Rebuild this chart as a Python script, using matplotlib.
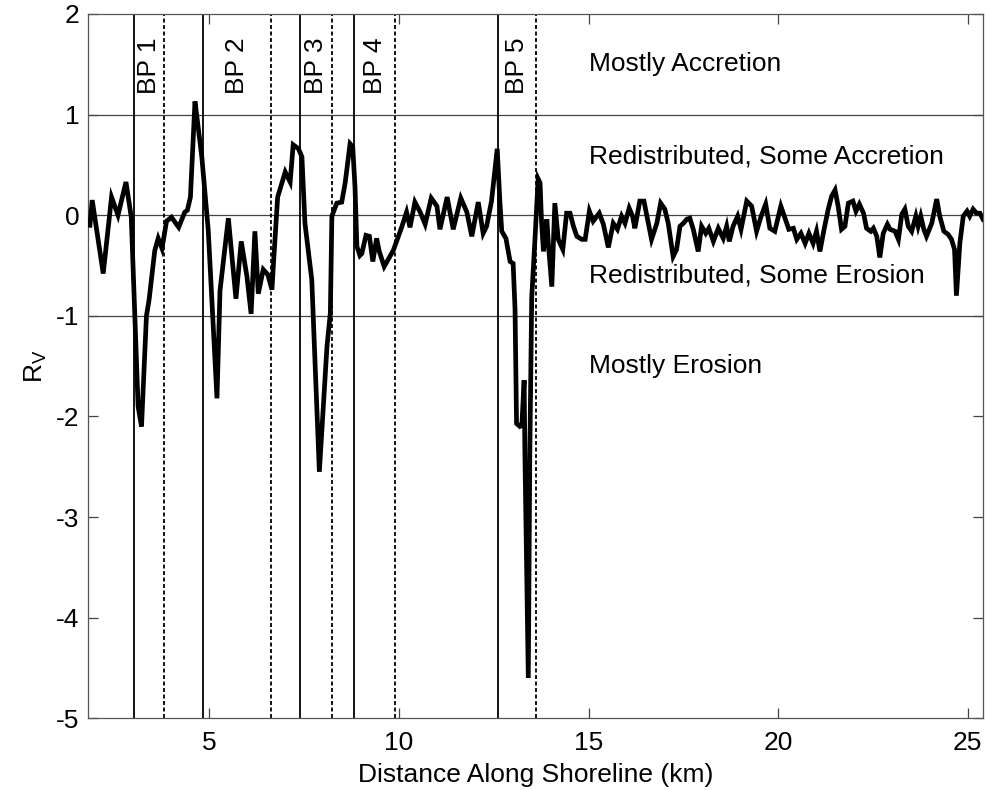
import matplotlib
matplotlib.use("Agg")
import matplotlib.pyplot as plt

plt.rcParams['font.family'] = ['Liberation Sans', 'DejaVu Sans']
plt.rcParams['mathtext.default'] = 'regular'
plt.rcParams['axes.unicode_minus'] = False

# Distance along shoreline (km) and R_V values
distance_km = [
    1.85, 1.91, 2.20, 2.42, 2.59, 2.80, 2.94, 3.12, 3.21, 3.34, 3.41, 3.56, 3.65, 3.75, 3.87,
    4.00, 4.19, 4.35, 4.42, 4.50, 4.62, 4.67, 4.80, 4.97, 5.20, 5.28, 5.50, 5.70, 5.84, 5.99,
    6.10, 6.20, 6.29, 6.42, 6.54, 6.65, 6.69, 6.80, 7.00, 7.13, 7.21, 7.35, 7.44, 7.52, 7.70,
    7.90, 8.10, 8.19, 8.23, 8.36, 8.49, 8.58, 8.71, 8.78, 8.84, 8.89, 8.97, 9.02, 9.13, 9.22,
    9.31, 9.41, 9.48, 9.61, 9.85, 10.07, 10.20, 10.29, 10.42, 10.56, 10.69, 10.85, 11.00, 11.08,
    11.27, 11.43, 11.63, 11.79, 11.92, 12.09, 12.22, 12.31, 12.44, 12.59, 12.66, 12.71, 12.82,
    12.93, 13.01, 13.06, 13.10, 13.19, 13.24, 13.30, 13.32, 13.41, 13.45, 13.50, 13.59, 13.67,
    13.72, 13.76, 13.81, 13.90, 13.94, 14.03, 14.11, 14.20, 14.32, 14.42, 14.51, 14.60, 14.69,
    14.82, 14.91, 15.02, 15.12, 15.28, 15.39, 15.52, 15.65, 15.76, 15.87, 15.96, 16.07, 16.16,
    16.22, 16.35, 16.46, 16.55, 16.66, 16.80, 16.90, 17.01, 17.10, 17.23, 17.32, 17.41, 17.50,
    17.59, 17.67, 17.76, 17.89, 17.98, 18.09, 18.17, 18.29, 18.42, 18.55, 18.64, 18.71, 18.81,
    18.93, 19.02, 19.17, 19.30, 19.43, 19.55, 19.67, 19.78, 19.91, 20.07, 20.18, 20.28, 20.40,
    20.49, 20.60, 20.71, 20.81, 20.92, 21.01, 21.10, 21.21, 21.32, 21.41, 21.50, 21.58, 21.67,
    21.76, 21.85, 21.97, 22.05, 22.14, 22.25, 22.33, 22.44, 22.51, 22.60, 22.68, 22.77, 22.88,
    22.95, 23.08, 23.17, 23.26, 23.34, 23.43, 23.52, 23.63, 23.69, 23.76, 23.84, 23.91, 24.05,
    24.18, 24.26, 24.37, 24.48, 24.57, 24.65, 24.70, 24.79, 24.88, 24.98, 25.05, 25.14, 25.23,
    25.32, 25.40,
]
rv_values = [
    -0.10, 0.15, -0.58, 0.18, 0.00, 0.33, -0.02, -1.90, -2.10, -1.00, -0.84, -0.35, -0.23, -0.33, -0.06,
    -0.02, -0.12, 0.03, 0.05, 0.18, 1.13, 0.98, 0.58, -0.15, -1.82, -0.75, -0.03, -0.83, -0.26, -0.61,
    -0.98, -0.16, -0.78, -0.54, -0.59, -0.74, -0.48, 0.18, 0.43, 0.33, 0.70, 0.66, 0.58, -0.08, -0.64,
    -2.55, -1.31, -0.97, -0.01, 0.12, 0.13, 0.32, 0.71, 0.68, 0.28, -0.31, -0.40, -0.38, -0.20, -0.21,
    -0.46, -0.23, -0.36, -0.51, -0.35, -0.12, 0.03, -0.12, 0.13, 0.03, -0.09, 0.17, 0.09, -0.14,
    0.18, -0.14, 0.17, 0.03, -0.21, 0.13, -0.18, -0.11, 0.14, 0.66, 0.14, -0.16, -0.23,
    -0.46, -0.48, -0.93, -2.07, -2.10, -2.09, -1.64, -2.36, -4.60, -2.36, -0.82, -0.21, 0.36,
    0.32, -0.07, -0.36, -0.04, -0.29, -0.71, 0.12, -0.24, -0.34, 0.02, 0.02, -0.11, -0.21,
    -0.24, -0.24, 0.04, -0.06, 0.02, -0.09, -0.32, -0.08, -0.14, -0.01, -0.08, 0.07, -0.01,
    -0.13, 0.14, 0.14, -0.03, -0.24, -0.08, 0.12, 0.06, -0.08, -0.41, -0.34, -0.11, -0.08,
    -0.04, -0.03, -0.14, -0.36, -0.11, -0.18, -0.13, -0.26, -0.13, -0.23, -0.11, -0.26, -0.11,
    -0.01, -0.14, 0.14, 0.09, -0.16, -0.01, 0.11, -0.13, -0.16, 0.09, -0.03, -0.14, -0.13,
    -0.24, -0.18, -0.28, -0.18, -0.28, -0.16, -0.36, -0.14, 0.06, 0.19, 0.25, 0.09, -0.14,
    -0.11, 0.12, 0.14, 0.04, 0.11, 0.02, -0.13, -0.16, -0.13, -0.21, -0.42, -0.18, -0.09,
    -0.14, -0.16, -0.24, 0.01, 0.06, -0.11, -0.16, -0.01, -0.11, -0.01, -0.14, -0.21, -0.08,
    0.16, -0.01, -0.16, -0.19, -0.24, -0.34, -0.80, -0.28, -0.01, 0.04, -0.01, 0.06, 0.02,
    0.02, -0.04,
]

# Beach project boundaries (start = solid, end = dashed)
bp_labels = ["BP 1", "BP 2", "BP 3", "BP 4", "BP 5"]
bp_start = [3.0, 4.84, 7.39, 8.81, 12.6]
bp_end = [3.8, 6.63, 8.23, 9.9, 13.61]

# Classification thresholds and region labels
thresholds = [1, 0, -1]
region_labels = ["Mostly Accretion", "Redistributed, Some Accretion",
                 "Redistributed, Some Erosion", "Mostly Erosion"]
region_label_y = [1.5, 0.58, -0.6, -1.5]

x_ticks = [5, 10, 15, 20, 25]
y_ticks = [-5, -4, -3, -2, -1, 0, 1, 2]

fig = plt.figure(figsize=(9.87, 7.90), dpi=100)
ax = fig.add_axes([0.0892, 0.0908, 0.9071, 0.8915])

FS = 19

for t in thresholds:
    ax.axhline(t, color='#444444', lw=0.9, zorder=1)

for s, e, lab in zip(bp_start, bp_end, bp_labels):
    ax.axvline(s, color='black', lw=1.3, zorder=2)
    ax.axvline(e, color='black', lw=1.3, ls=(0, (2.2, 1.4)), zorder=2)
    ax.text((s + e) / 2, 1.49, lab, rotation=90, ha='center', va='center', fontsize=FS)

ax.plot(distance_km, rv_values, color='black', lw=3.4, solid_joinstyle='miter', zorder=3)

for lab, yy in zip(region_labels, region_label_y):
    ax.text(15.0, yy, lab, ha='left', va='center', fontsize=FS)

ax.set_xlim(1.8, 25.41)
ax.set_ylim(-5, 2)
ax.set_xticks(x_ticks)
ax.set_yticks(y_ticks)
ax.tick_params(direction='in', length=7, width=0.9, labelsize=FS, top=True, right=True,
               color='#444444')
ax.tick_params(axis='x', pad=9)
ax.tick_params(axis='y', pad=6)
for sp in ax.spines.values():
    sp.set_color('#555555')
    sp.set_linewidth(0.9)

ax.set_xlabel('Distance Along Shoreline (km)', fontsize=FS, labelpad=6)
ax.set_ylabel('R$_V$', fontsize=FS, labelpad=5)

fig.savefig('out.png', dpi=100)
